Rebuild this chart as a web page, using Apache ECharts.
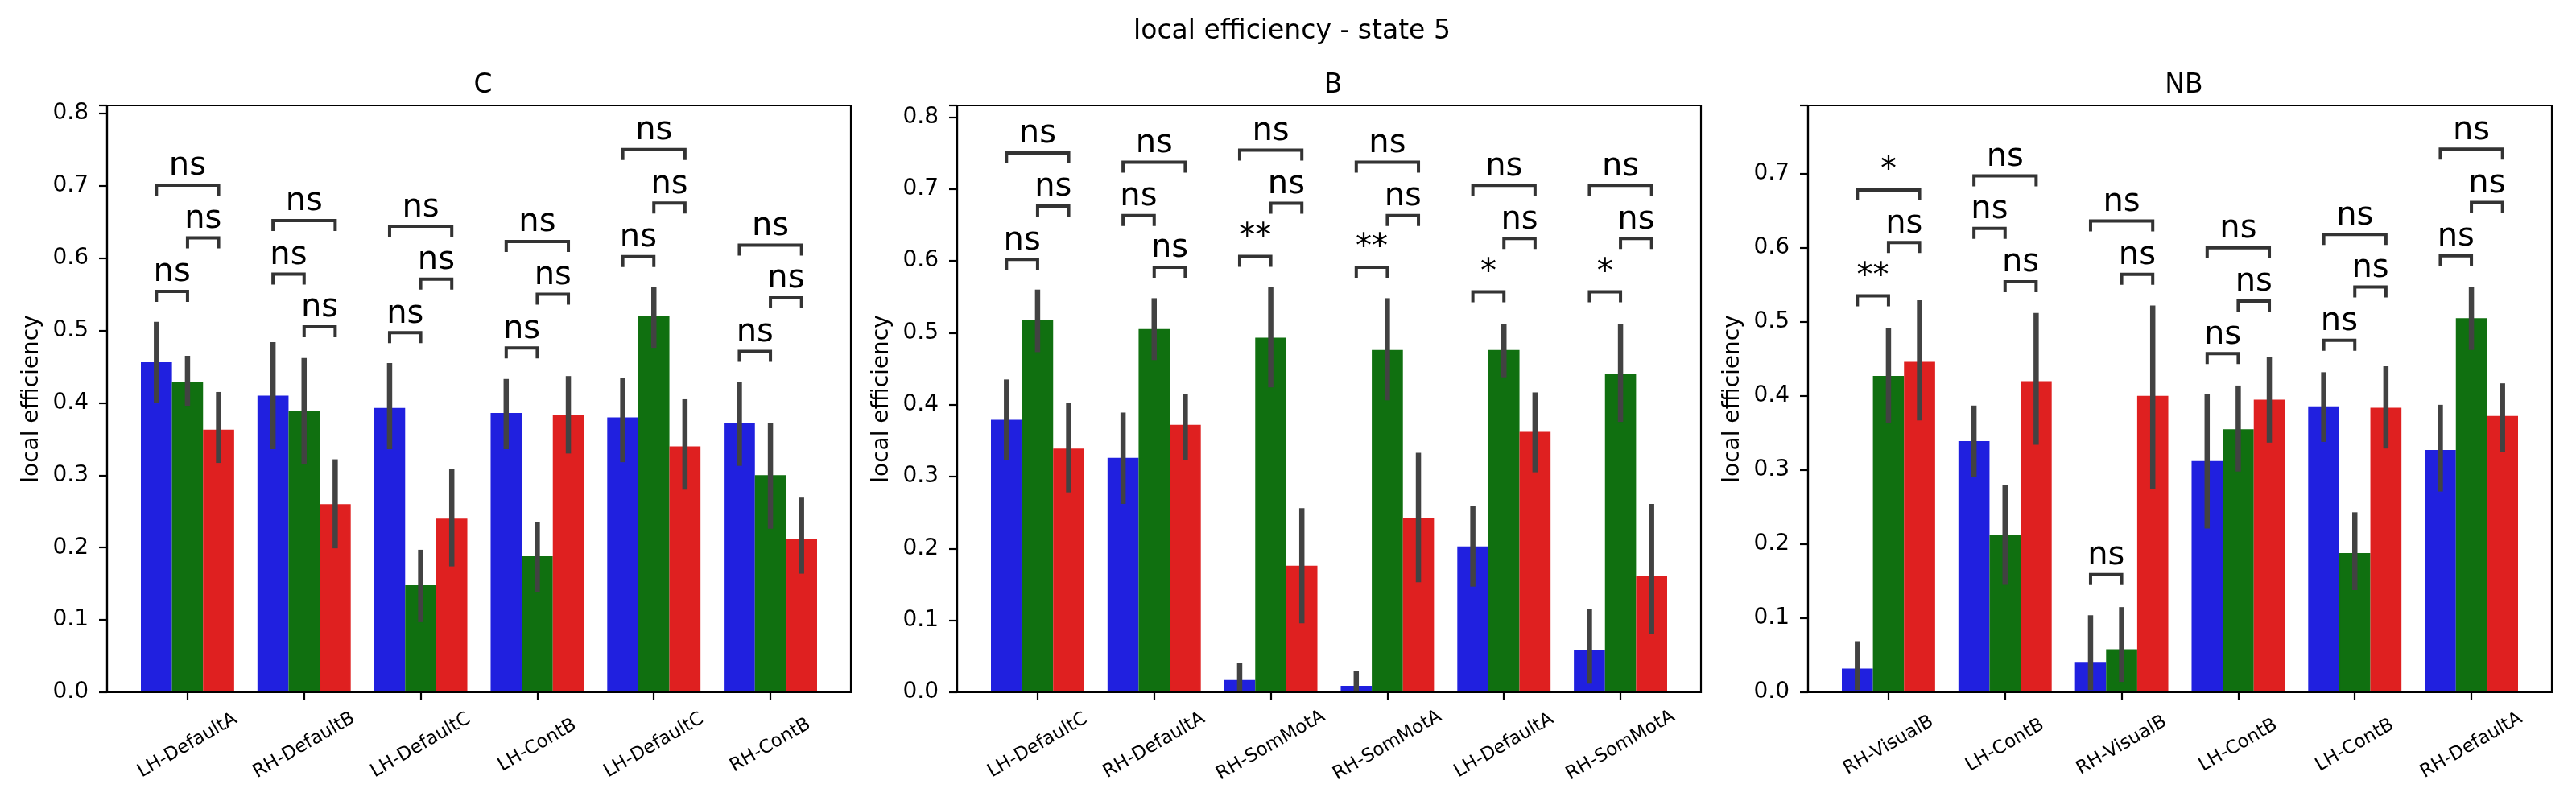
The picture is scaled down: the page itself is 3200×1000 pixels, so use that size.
<!DOCTYPE html>
<html>
<head>
<meta charset="utf-8">
<script src="https://cdn.jsdelivr.net/npm/echarts@6/dist/echarts.min.js"></script>
<style>
  html, body { margin: 0; padding: 0; background: #fff; }
  #chart { width: 3200px; height: 1000px; }
</style>
</head>
<body>
<div id="chart"></div>
<script>
// ---- data ----
const catsC = ['LH-DefaultA', 'RH-DefaultB', 'LH-DefaultC', 'LH-ContB', 'LH-DefaultC', 'RH-ContB'];
const blueC = [0.456, 0.410, 0.393, 0.386, 0.380, 0.372];
const greenC = [0.429, 0.389, 0.148, 0.188, 0.520, 0.300];
const redC = [0.363, 0.260, 0.240, 0.383, 0.340, 0.212];
const ciBlueC = [[0.400, 0.512], [0.336, 0.484], [0.336, 0.455], [0.336, 0.433], [0.318, 0.434], [0.313, 0.429]];
const ciGreenC = [[0.396, 0.465], [0.316, 0.462], [0.097, 0.197], [0.138, 0.235], [0.476, 0.560], [0.226, 0.372]];
const ciRedC = [[0.317, 0.415], [0.199, 0.322], [0.174, 0.309], [0.330, 0.437], [0.280, 0.405], [0.164, 0.269]];
// [group, hueA, hueB, height, label]
const bracketsC = [
  [0, 0, 1, 0.554, 'ns'], [0, 1, 2, 0.628, 'ns'], [0, 0, 2, 0.701, 'ns'],
  [1, 0, 1, 0.578, 'ns'], [1, 1, 2, 0.505, 'ns'], [1, 0, 2, 0.652, 'ns'],
  [2, 0, 1, 0.497, 'ns'], [2, 1, 2, 0.571, 'ns'], [2, 0, 2, 0.644, 'ns'],
  [3, 0, 1, 0.476, 'ns'], [3, 1, 2, 0.550, 'ns'], [3, 0, 2, 0.623, 'ns'],
  [4, 0, 1, 0.602, 'ns'], [4, 1, 2, 0.676, 'ns'], [4, 0, 2, 0.750, 'ns'],
  [5, 0, 1, 0.471, 'ns'], [5, 1, 2, 0.545, 'ns'], [5, 0, 2, 0.618, 'ns']
];

const catsB = ['LH-DefaultC', 'RH-DefaultA', 'RH-SomMotA', 'RH-SomMotA', 'LH-DefaultA', 'RH-SomMotA'];
const blueB = [0.379, 0.326, 0.017, 0.009, 0.203, 0.059];
const greenB = [0.517, 0.505, 0.493, 0.476, 0.476, 0.443];
const redB = [0.339, 0.372, 0.176, 0.243, 0.362, 0.162];
const ciBlueB = [[0.323, 0.435], [0.262, 0.389], [0.0, 0.041], [0.0, 0.030], [0.147, 0.259], [0.012, 0.116]];
const ciGreenB = [[0.473, 0.560], [0.462, 0.548], [0.424, 0.563], [0.406, 0.548], [0.438, 0.512], [0.376, 0.512]];
const ciRedB = [[0.278, 0.402], [0.323, 0.415], [0.096, 0.256], [0.153, 0.333], [0.306, 0.417], [0.081, 0.262]];
const bracketsB = [
  [0, 0, 1, 0.602, 'ns'], [0, 1, 2, 0.676, 'ns'], [0, 0, 2, 0.750, 'ns'],
  [1, 0, 1, 0.663, 'ns'], [1, 1, 2, 0.591, 'ns'], [1, 0, 2, 0.737, 'ns'],
  [2, 0, 1, 0.606, '**'], [2, 1, 2, 0.680, 'ns'], [2, 0, 2, 0.754, 'ns'],
  [3, 0, 1, 0.591, '**'], [3, 1, 2, 0.663, 'ns'], [3, 0, 2, 0.737, 'ns'],
  [4, 0, 1, 0.557, '*'], [4, 1, 2, 0.631, 'ns'], [4, 0, 2, 0.705, 'ns'],
  [5, 0, 1, 0.557, '*'], [5, 1, 2, 0.631, 'ns'], [5, 0, 2, 0.705, 'ns']
];

const catsNB = ['RH-VisualB', 'LH-ContB', 'RH-VisualB', 'LH-ContB', 'LH-ContB', 'RH-DefaultA'];
const blueNB = [0.032, 0.339, 0.041, 0.312, 0.386, 0.327];
const greenNB = [0.427, 0.212, 0.058, 0.355, 0.188, 0.505];
const redNB = [0.446, 0.420, 0.400, 0.395, 0.384, 0.373];
const ciBlueNB = [[0.003, 0.069], [0.291, 0.387], [0.003, 0.104], [0.221, 0.403], [0.338, 0.432], [0.271, 0.388]];
const ciGreenNB = [[0.364, 0.492], [0.145, 0.280], [0.014, 0.115], [0.298, 0.414], [0.138, 0.243], [0.462, 0.547]];
const ciRedNB = [[0.367, 0.529], [0.334, 0.512], [0.275, 0.522], [0.337, 0.452], [0.329, 0.440], [0.324, 0.417]];
const bracketsNB = [
  [0, 0, 1, 0.535, '**'], [0, 1, 2, 0.607, 'ns'], [0, 0, 2, 0.678, '*'],
  [1, 0, 1, 0.626, 'ns'], [1, 1, 2, 0.554, 'ns'], [1, 0, 2, 0.697, 'ns'],
  [2, 0, 1, 0.159, 'ns'], [2, 1, 2, 0.564, 'ns'], [2, 0, 2, 0.636, 'ns'],
  [3, 0, 1, 0.457, 'ns'], [3, 1, 2, 0.528, 'ns'], [3, 0, 2, 0.600, 'ns'],
  [4, 0, 1, 0.475, 'ns'], [4, 1, 2, 0.547, 'ns'], [4, 0, 2, 0.618, 'ns'],
  [5, 0, 1, 0.589, 'ns'], [5, 1, 2, 0.661, 'ns'], [5, 0, 2, 0.733, 'ns']
];

const panelTitles = ['C', 'B', 'NB'];
const yMax = [0.811, 0.816, 0.792];

// ---- layout / style ----
const colors = ['#2020df', '#107010', '#df2020'];
const font = 'DejaVu Sans';
const frameLeft = [133, 1189, 2246];
const frameWidth = 924;
const frameTop = 131;
const frameBottom = 140;
const pad = frameWidth * 0.19 / 6.38; // matplotlib xlim is a bit wider than the 6 categories

const panels = [
  { cats: catsC, means: [blueC, greenC, redC], ci: [ciBlueC, ciGreenC, ciRedC], brackets: bracketsC },
  { cats: catsB, means: [blueB, greenB, redB], ci: [ciBlueB, ciGreenB, ciRedB], brackets: bracketsB },
  { cats: catsNB, means: [blueNB, greenNB, redNB], ci: [ciBlueNB, ciGreenNB, ciRedNB], brackets: bracketsNB }
];

const chart = echarts.init(document.getElementById('chart'), null, { renderer: 'canvas' });

const grid = [], xAxis = [], yAxis = [], series = [], graphic = [];
const title = [{
  text: 'local efficiency - state 5', left: 1600, top: 18, textAlign: 'center',
  textStyle: { fontSize: 33, fontWeight: 'normal', color: '#000', fontFamily: font }
}];

function hueOffset(hue, bandW) {
  return (hue - 1) * bandW * 0.8 / 3;
}

panels.forEach((p, i) => {
  grid.push({
    left: frameLeft[i] + pad, width: frameWidth - 2 * pad,
    top: frameTop, bottom: frameBottom, containLabel: false
  });
  graphic.push({
    type: 'rect', silent: true, z: 100,
    shape: { x: frameLeft[i], y: frameTop, width: frameWidth, height: 1000 - frameTop - frameBottom },
    style: { fill: null, stroke: '#000', lineWidth: 2.2 }
  });
  title.push({
    text: panelTitles[i], left: frameLeft[i] + frameWidth / 2, top: 85, textAlign: 'center',
    textStyle: { fontSize: 33, fontWeight: 'normal', color: '#000', fontFamily: font }
  });
  xAxis.push({
    type: 'category', gridIndex: i,
    data: p.cats.map((c, k) => String(k)),
    axisLine: { show: false },
    axisTick: { show: true, alignWithLabel: true, length: 10, lineStyle: { color: '#000', width: 2.2 } },
    axisLabel: {
      interval: 0, rotate: 30, align: 'center', verticalAlign: 'middle', margin: 66,
      fontSize: 23, color: '#000', fontFamily: font,
      formatter: (v, k) => p.cats[k]
    },
    splitLine: { show: false }
  });
  yAxis.push({
    type: 'value', gridIndex: i, min: 0, max: yMax[i], interval: 0.1, offset: pad,
    axisLine: { show: true, lineStyle: { color: '#000', width: 2.2 } },
    axisTick: { show: true, length: 10, lineStyle: { color: '#000', width: 2.2 } },
    axisLabel: {
      margin: 23, fontSize: 28, color: '#000', fontFamily: font, showMaxLabel: true,
      formatter: v => (Math.abs(v * 10 - Math.round(v * 10)) < 1e-6 ? v.toFixed(1) : '')
    },
    splitLine: { show: false },
    name: 'local efficiency', nameLocation: 'middle', nameGap: 79, nameRotate: 90,
    nameTextStyle: { fontSize: 28, color: '#000', fontFamily: font }
  });

  p.means.forEach((vals, h) => {
    series.push({
      type: 'bar', xAxisIndex: i, yAxisIndex: i, data: vals,
      barGap: '0%', barCategoryGap: '20%',
      itemStyle: { color: colors[h], borderColor: colors[h], borderWidth: 1.5 }, silent: true
    });
  });

  // error bars (confidence intervals)
  const errData = [];
  p.ci.forEach((list, h) => list.forEach((c, k) => errData.push([k, c[0], c[1], h])));
  series.push({
    type: 'custom', xAxisIndex: i, yAxisIndex: i, z: 5, silent: true,
    data: errData, encode: { x: 0, y: [1, 2] },
    renderItem: (params, api) => {
      const bw = api.size([1, 0])[0];
      const off = hueOffset(api.value(3), bw);
      const lo = api.coord([api.value(0), api.value(1)]);
      const hi = api.coord([api.value(0), api.value(2)]);
      return {
        type: 'line',
        shape: { x1: lo[0] + off, y1: lo[1], x2: hi[0] + off, y2: hi[1] },
        style: { stroke: '#424242', lineWidth: 6.5 }
      };
    }
  });

  // significance brackets
  series.push({
    type: 'custom', xAxisIndex: i, yAxisIndex: i, z: 6, silent: true, clip: false,
    data: p.brackets.map(b => [b[0], b[3]]), encode: { x: 0, y: 1 },
    renderItem: (params, api) => {
      const b = p.brackets[params.dataIndex];
      const bw = api.size([1, 0])[0];
      const c = api.coord([b[0], b[3]]);
      const x1 = c[0] + hueOffset(b[1], bw);
      const x2 = c[0] + hueOffset(b[2], bw);
      const y = c[1];
      return {
        type: 'group',
        children: [
          {
            type: 'polyline',
            shape: { points: [[x1, y + 13], [x1, y], [x2, y], [x2, y + 13]] },
            style: { stroke: '#333', lineWidth: 4, fill: null }
          },
          {
            type: 'text',
            style: {
              text: b[4], x: (x1 + x2) / 2, y: y - 3,
              align: 'center', verticalAlign: 'bottom',
              fontSize: 40, fontFamily: font, fill: '#000'
            }
          }
        ]
      };
    }
  });
});

chart.setOption({
  animation: false,
  backgroundColor: '#fff',
  textStyle: { fontFamily: font },
  title: title,
  grid: grid,
  xAxis: xAxis,
  yAxis: yAxis,
  series: series,
  graphic: graphic
});
</script>
</body>
</html>
